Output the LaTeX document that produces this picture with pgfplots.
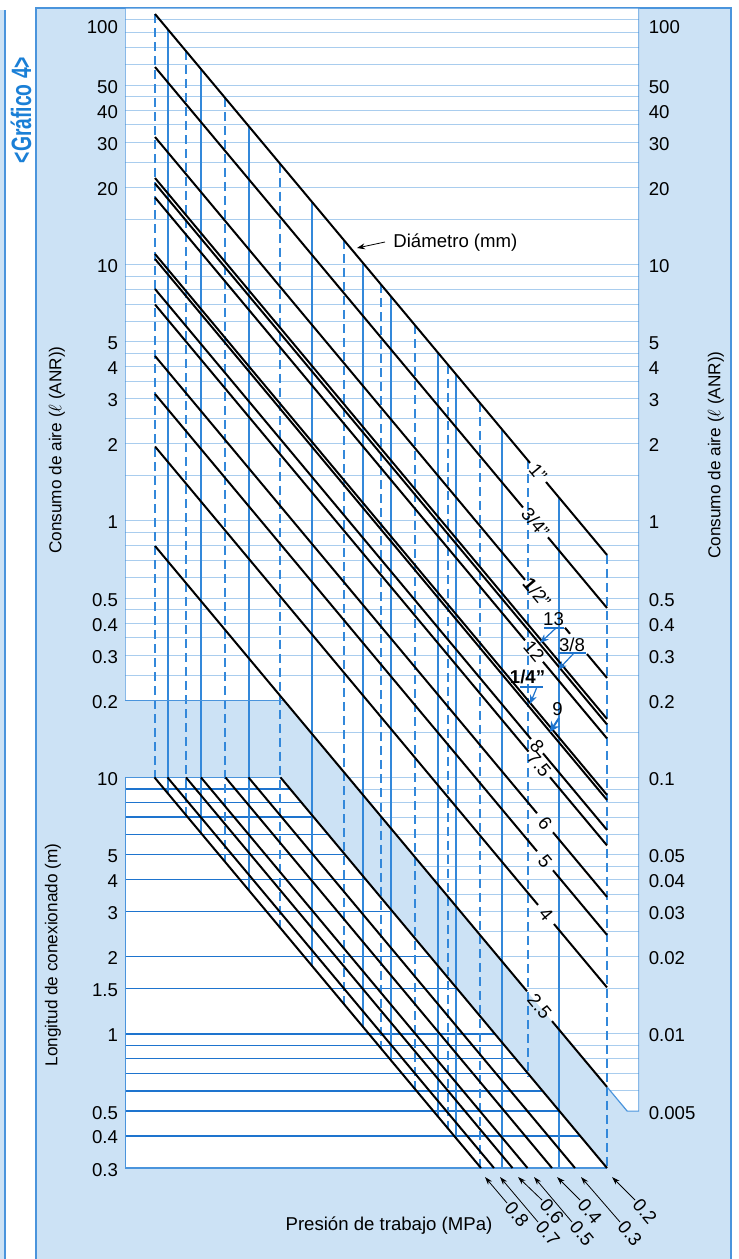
\documentclass[border=0pt]{standalone}
\usepackage{graphicx}
\usepackage{pgfplots}
\pgfplotsset{compat=1.18}
\usepackage{fontspec}
\setmainfont{Liberation Sans}
\usetikzlibrary{arrows.meta}

\definecolor{panel}{HTML}{CCE2F5}
\definecolor{gridl}{HTML}{A9CDEE}
\definecolor{blu}{HTML}{1E74CE}
\definecolor{vblu}{HTML}{3388DA}
\definecolor{frame}{HTML}{4A94DC}
\definecolor{titleblue}{HTML}{1A7FD6}

\newcommand{\fs}{\fontsize{9.3}{11}\selectfont}
\newcommand{\fsl}{\fontsize{8.6}{10}\selectfont}

\tikzset{
  diag/.style={black, line width=1pt},
  vsol/.style={vblu, line width=0.6pt},
  vdash/.style={vblu, line width=0.6pt, dash pattern=on 4.5pt off 2.5pt},
  gl/.style={gridl, line width=0.5pt},
  ll/.style={blu, line width=0.7pt},
  bd/.style={frame, line width=0.6pt},
}

\begin{document}
\begin{tikzpicture}
\path[use as bounding box] (0,0) rectangle (369.5pt,-629.5pt);
\begin{scope}[x=0.5pt,y=-0.5pt]
  \fill[panel] (0,10) rectangle (5,1259);
  \draw[frame, line width=0.6pt] (5,10) -- (5,1259);
  \fill[panel] (36,8) rectangle (731,1259);
  \draw[frame, line width=0.6pt] (36,1259) -- (36,8) -- (731,8) -- (731,1259);
  \node[rotate=90, text=titleblue, font=\fontsize{14}{14}\selectfont\bfseries, inner sep=0pt] at (21,110) {\scalebox{0.69}[1]{<Gráfico 4>}};
\end{scope}

\begin{axis}[at={(62.5pt,-584pt)}, anchor=south west,
  width=257pt, height=580pt, scale only axis,
  xmin=125, xmax=639, ymode=log, ymin=0.003, ymax=100,
  axis line style={draw=none}, tick style={draw=none},
  xtick=\empty,
  /pgf/number format/assume math mode=true,
  yticklabel style={font=\fs, yshift=-0.8pt},
  ytick={50,40,30,20,10,5,4,3,2,1,0.5,0.4,0.3,0.2,0.1,0.05,0.04,0.03,0.02,0.015,0.01,0.005,0.004,0.003},
  yticklabels={50,40,30,20,10,5,4,3,2,1,0.5,0.4,0.3,0.2,10,5,4,3,2,1.5,1,0.5,0.4,0.3},
  extra y ticks={100}, extra y tick labels={100},
  extra y tick style={yticklabel style={anchor=north east, yshift=-2pt}}]

% white regions
\addplot[fill=white, draw=none, mark=none] coordinates {(125,100) (639,100) (639,0.005) (627.2,0.005) (607,0.006214) (283.9,0.2) (125,0.2)} -- cycle;
\addplot[fill=white, draw=none, mark=none] coordinates {(125,0.1) (280.5,0.1) (607,0.003) (125,0.003)} -- cycle;

% light grid (air consumption)
\foreach \v in {90,80,70,60,50,45,40,35,30,25,20,15,10,9,8,7,6,5,4.5,4,3.5,3,2.5,2,1.5,1,0.9,0.8,0.7,0.6,0.5,0.45,0.4,0.35,0.3,0.25}{
  \edef\tmp{\noexpand\addplot[gl, mark=none] coordinates {(125,\v) (639,\v)};}\tmp}
\foreach \v/\xl in {0.15/310.7,0.1/348.4,0.09/358.2,0.08/369.2,0.07/381.6,0.06/396.0,0.05/412.9,0.045/422.7,0.04/433.7,0.035/446.1,0.03/460.5,0.025/477.4,0.02/498.2,0.015/525.0,0.01/562.7,0.009/572.5,0.008/583.5,0.007/595.9,0.006/610.3}{
  \edef\tmp{\noexpand\addplot[gl, mark=none] coordinates {(\xl,\v) (639,\v)};}\tmp}

% connection length lines
\foreach \v/\xr in {0.09/290.3,0.08/301.3,0.07/313.7,0.06/328.1,0.05/345.0,0.04/365.8,0.03/392.6,0.02/430.4,0.015/457.1,0.01/494.9,0.009/504.7,0.008/515.7,0.007/528.1,0.006/542.5,0.005/559.4,0.004/580.2}{
  \edef\tmp{\noexpand\addplot[ll, mark=none] coordinates {(125,\v) (\xr,\v)};}\tmp}

% vertical guides
\foreach \x/\t/\b in {168/82.40/0.08651,201/57.80/0.06069,249/34.51/0.036243,312/17.54/0.018423,363/10.14/0.010653,391/7.504/0.0078843,438/4.529/0.0047611,456/3.733/0.0039237,502/2.277/0.003,559/1.2341/0.003}{
  \edef\tmp{\noexpand\addplot[vsol, mark=none] coordinates {(\x,\t) (\x,\b)};}\tmp}
\foreach \x/\t/\b in {155/94.76/0.1,186/67.91/0.071296,225/44.66/0.0469,280/24.74/0.025979,344/12.44/0.013061,381/8.356/0.0087822,415/5.799/0.0060947,448/4.068/0.0042761,480/2.884/0.003032,528/1.7219/0.0068,607/0.7369/0.003}{
  \edef\tmp{\noexpand\addplot[vdash, mark=none] coordinates {(\x,\t) (\x,\b)};}\tmp}

% borders of the white regions
\addplot[bd, mark=none] coordinates {(125,0.2) (125,100) (639,100) (639,0.005) (627.2,0.005) (607,0.006214)};
\addplot[bd, mark=none] coordinates {(125,0.2) (283.9,0.2)};
\addplot[bd, mark=none] coordinates {(280.5,0.1) (125,0.1) (125,0.003) (607,0.003)};

% diameter lines
\addplot[diag, mark=none] coordinates {(155,94.76) (530,1.6847)};
\addplot[diag, mark=none] coordinates {(546,1.4194) (607,0.7370)};
\addplot[diag, mark=none] coordinates {(155,58.88) (523,1.1288)};
\addplot[diag, mark=none] coordinates {(548,0.8632) (607,0.4579)};
\addplot[diag, mark=none] coordinates {(155,31.41) (525,0.5895)};
\addplot[diag, mark=none] coordinates {(565,0.3834) (570,0.3633)};
\addplot[diag, mark=none] coordinates {(587,0.30277) (607,0.24429)};
\addplot[diag, mark=none] coordinates {(155,21.74) (607,0.16907)};
\addplot[diag, mark=none] coordinates {(155,20.70) (607,0.16093)};
\addplot[diag, mark=none] coordinates {(155,18.25) (525,0.34239)};
\addplot[diag, mark=none] coordinates {(543,0.28228) (607,0.14192)};
\addplot[diag, mark=none] coordinates {(155,10.99) (607,0.08546)};
\addplot[diag, mark=none] coordinates {(155,10.51) (607,0.08172)};
\addplot[diag, mark=none] coordinates {(155,8.024) (531,0.14116)};
\addplot[diag, mark=none] coordinates {(543,0.12415) (607,0.062418)};
\addplot[diag, mark=none] coordinates {(155,6.984) (528.5,0.12617)};
\addplot[diag, mark=none] coordinates {(550,0.10018) (607,0.054312)};
\addplot[diag, mark=none] coordinates {(155,4.398) (537,0.072516)};
\addplot[diag, mark=none] coordinates {(553,0.061087) (607,0.034206)};
\addplot[diag, mark=none] coordinates {(155,3.127) (537,0.051555)};
\addplot[diag, mark=none] coordinates {(553,0.043433) (607,0.02432)};
\addplot[diag, mark=none] coordinates {(155,1.952) (538,0.031836)};
\addplot[diag, mark=none] coordinates {(554,0.02682) (607,0.01518)};
\addplot[diag, mark=none] coordinates {(155,0.7991) (527,0.01467)};
\addplot[diag, mark=none] coordinates {(552,0.011216) (607,0.006214)};

% pressure lines
\addplot[diag, mark=none] coordinates {(154.5,0.1) (481,0.003)};
\addplot[diag, mark=none] coordinates {(167.5,0.1) (494,0.003)};
\addplot[diag, mark=none] coordinates {(186,0.1) (512.5,0.003)};
\addplot[diag, mark=none] coordinates {(201,0.1) (527.5,0.003)};
\addplot[diag, mark=none] coordinates {(225.5,0.1) (552,0.003)};
\addplot[diag, mark=none] coordinates {(248.5,0.1) (575,0.003)};
\addplot[diag, mark=none] coordinates {(280.5,0.1) (607,0.003)};
\end{axis}

\begin{axis}[at={(62.5pt,-584pt)}, anchor=south west,
  width=257pt, height=580pt, scale only axis,
  xmin=125, xmax=639, ymode=log, ymin=0.003, ymax=100,
  axis y line*=right, axis x line=none,
  axis line style={draw=none}, tick style={draw=none},
  xtick=\empty,
  /pgf/number format/assume math mode=true,
  yticklabel style={font=\fs, yshift=-0.8pt, xshift=1.4pt},
  ytick={50,40,30,20,10,5,4,3,2,1,0.5,0.4,0.3,0.2,0.1,0.05,0.04,0.03,0.02,0.01,0.005},
  yticklabels={50,40,30,20,10,5,4,3,2,1,0.5,0.4,0.3,0.2,0.1,0.05,0.04,0.03,0.02,0.01,0.005},
  extra y ticks={100}, extra y tick labels={100},
  extra y tick style={yticklabel style={anchor=north west, yshift=-2pt}}]
\addplot[draw=none, mark=none] coordinates {(300,1) (400,0.1)};
\end{axis}

\begin{scope}[x=0.5pt,y=-0.5pt]
  \node[rotate=90, font=\fsl] at (57,450) {Consumo de aire ($\ell$ (ANR))};
  \node[rotate=90, font=\fsl] at (716,455) {Consumo de aire ($\ell$ (ANR))};
  \node[rotate=90, font=\fsl] at (53,955) {Longitud de conexionado (m)};
  \node[font=\fs] at (389,1226) {Presión de trabajo (MPa)};
  \node[font=\fs, anchor=west, inner sep=0pt] at (393,243) {Diámetro (mm)};
  \draw[black, line width=0.4pt, -{Stealth[length=4pt,width=3pt]}] (385,242) -- (357,248);
  \foreach \xx/\yy/\tt in {538/472.5/{1"},535.5/522.5/{3/4"},537/593/{{\bfseries 1}/2"},534/651/{12},537/746/{8},539/764.5/{7.5},545/823/{6},545/861/{5},546/914.5/{4},539.5/1006.5/{2.5}}{
    \node[rotate=-50.1, font=\fs, inner sep=0pt] at (\xx,\yy) {\tt};}
  \node[font=\fs, inner sep=0pt] at (553.5,619) {13};
  \draw[blu, line width=0.6pt] (544,628) -- (564,628);
  \draw[blu, line width=0.6pt, -{Stealth[length=4.5pt,width=3.5pt]}] (556,628) -- (540,643);
  \node[font=\fs, inner sep=0pt] at (572,645) {3/8};
  \draw[blu, line width=0.6pt] (558,653) -- (586,653);
  \draw[blu, line width=0.6pt, -{Stealth[length=4.5pt,width=3.5pt]}] (574,653) -- (558,670);
  \node[font=\fs\bfseries, inner sep=0pt] at (527.5,677) {1/4"};
  \draw[blu, line width=0.6pt] (520,687) -- (543,687);
  \draw[blu, line width=0.6pt, -{Stealth[length=4.5pt,width=3.5pt]}] (537,687) -- (530,704);
  \node[font=\fs, inner sep=0pt] at (557.5,709) {9};
  \draw[blu, line width=1pt, -{Stealth[length=5pt,width=5pt]}] (559,718) -- (550,732);
  \foreach \sx/\sy/\tx/\ty/\pp in {507/1203/485/1177/0.8,538/1222/500/1177/0.7,542/1200/518/1177/0.6,572/1222/534/1177/0.5,580/1200/557/1177/0.4,620/1222/581/1177/0.3,635/1200/612/1177/0.2}{
    \draw[black, line width=0.4pt, -{Stealth[length=4pt,width=2.6pt]}] (\sx,\sy) -- (\tx,\ty);
    \node[rotate=-50.1, anchor=west, font=\fs, inner sep=1pt] at (\sx,\sy) {\pp};}
\end{scope}
\end{tikzpicture}
\end{document}
